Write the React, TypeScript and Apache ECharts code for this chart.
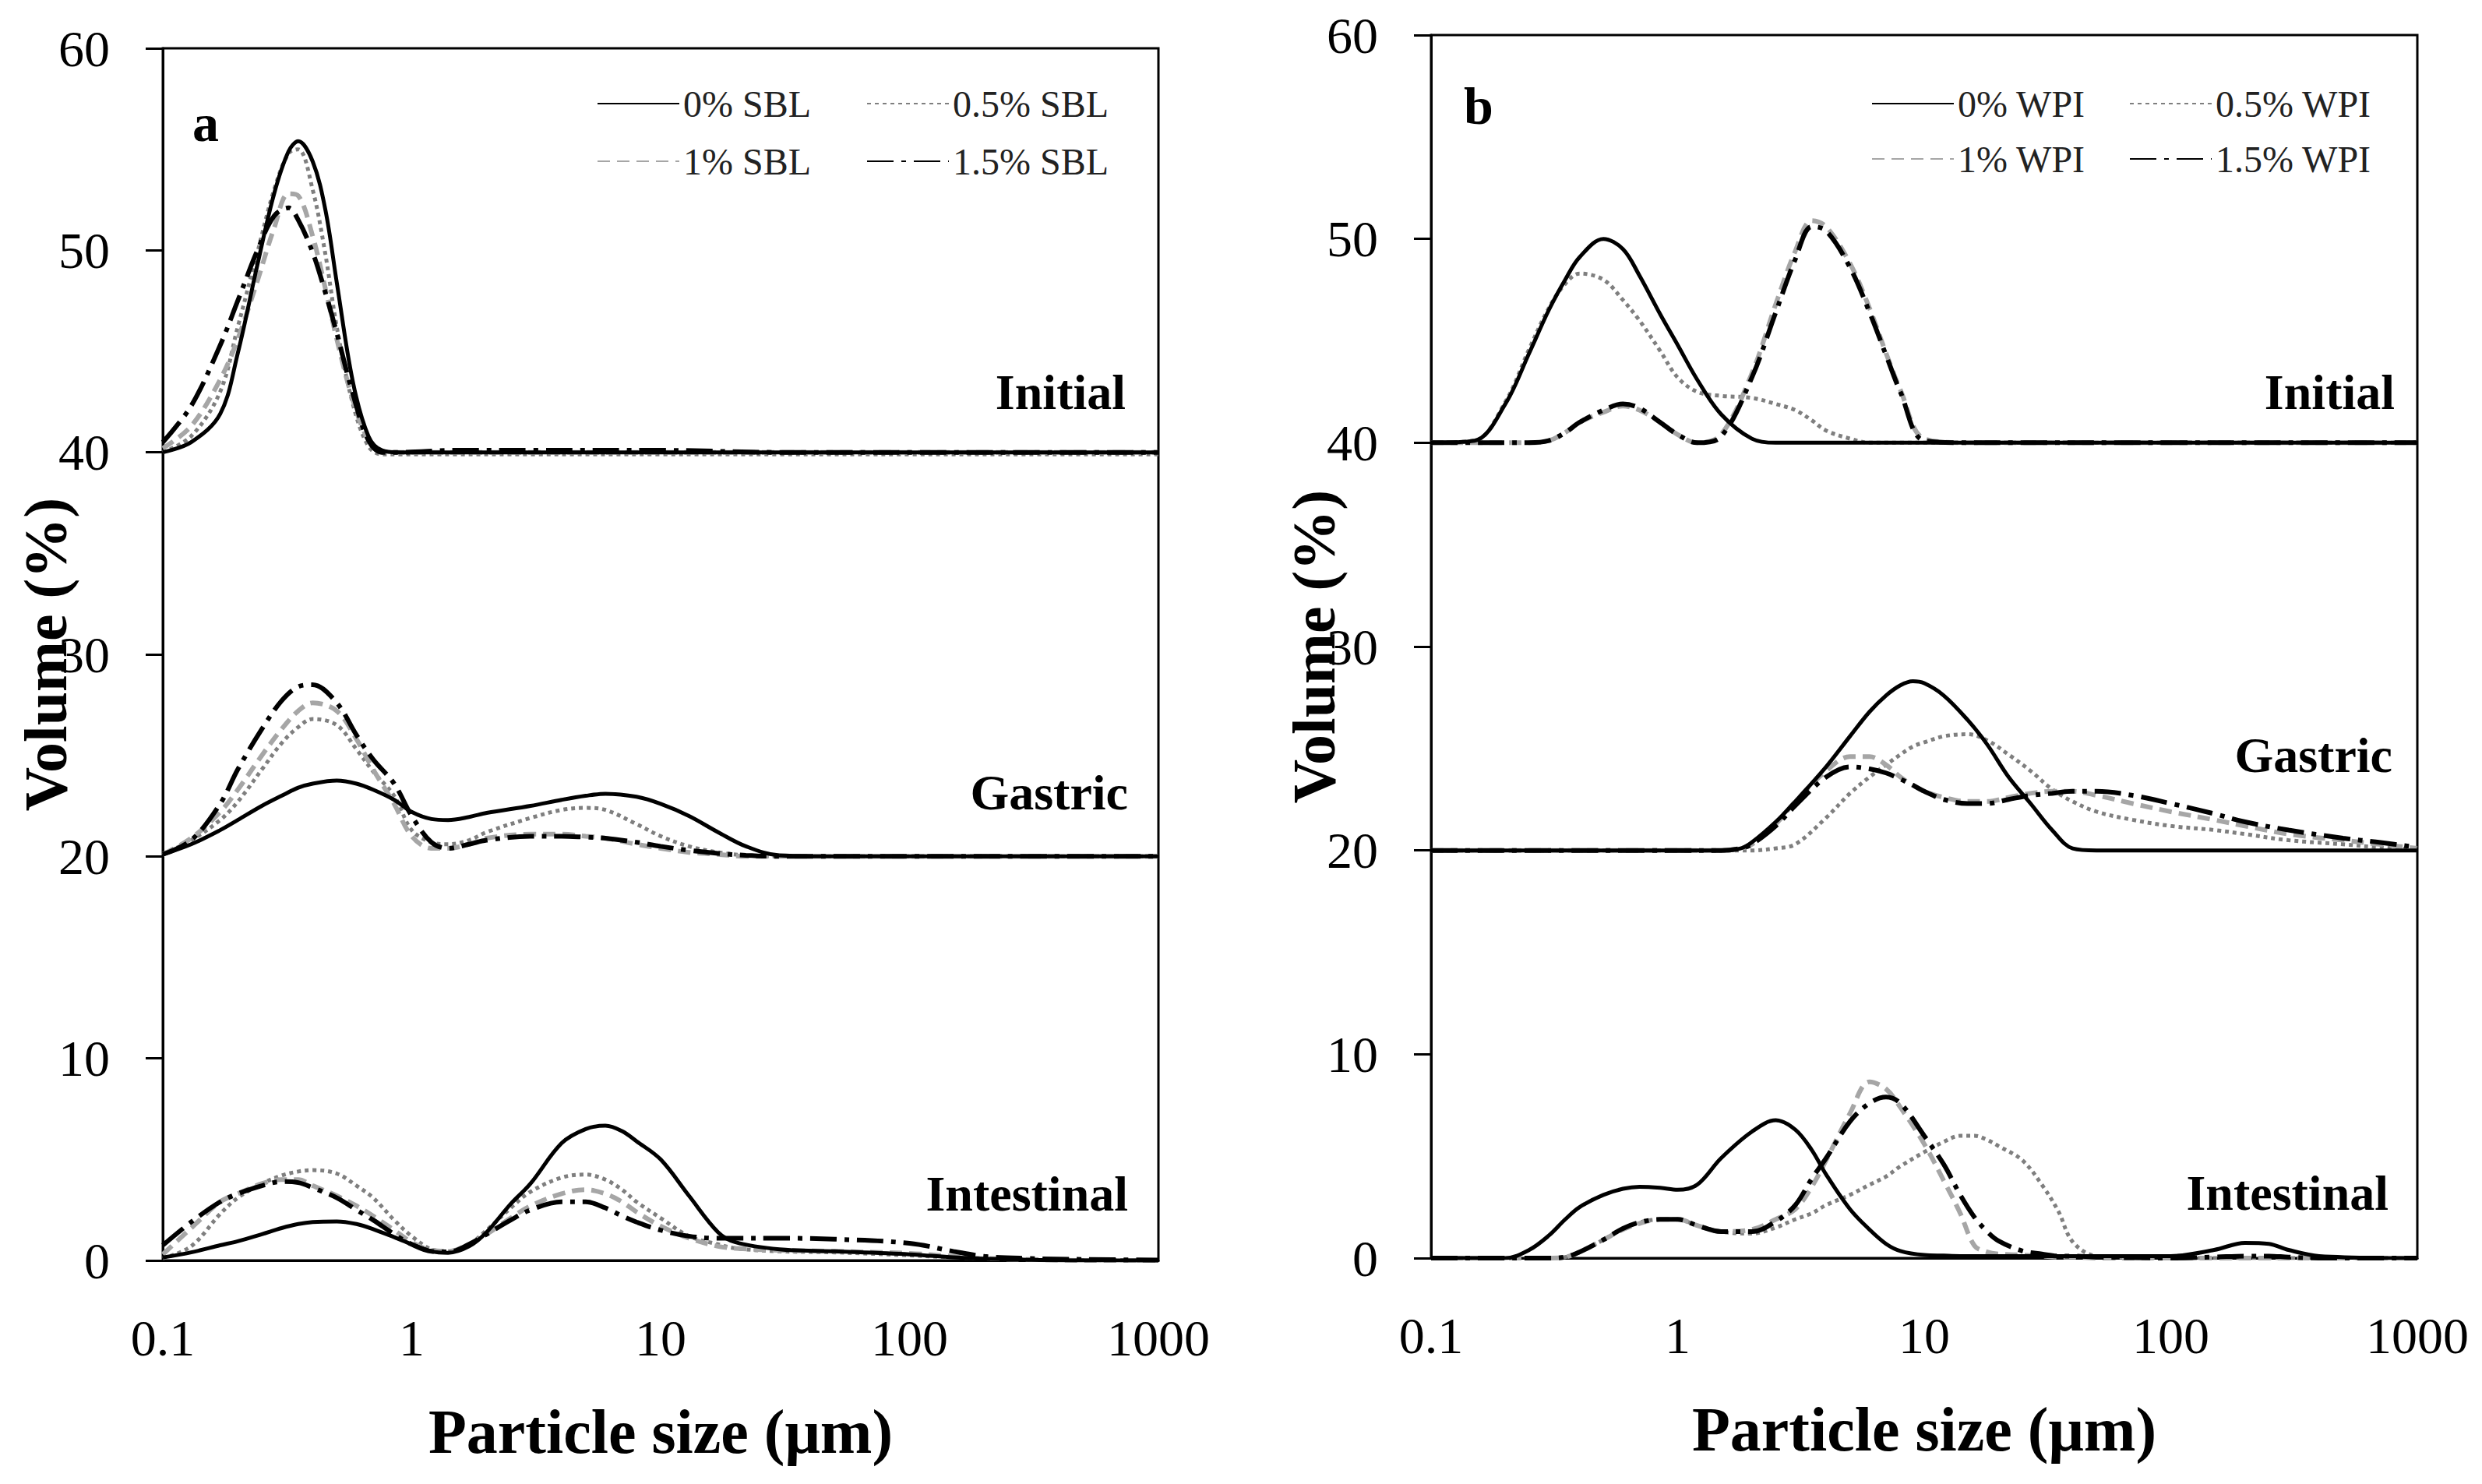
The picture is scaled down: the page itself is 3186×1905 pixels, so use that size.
import React, { useEffect, useRef } from "react";
import * as echarts from "echarts";

const FONT = "'Liberation Serif', 'Times New Roman', serif";

// ---------- labels ----------
const conditionsA = ["0% SBL", "0.5% SBL", "1% SBL", "1.5% SBL"];
const conditionsB = ["0% WPI", "0.5% WPI", "1% WPI", "1.5% WPI"];
const stageLabels = ["Initial", "Gastric", "Intestinal"];
const xTickLabels = ["0.1", "1", "10", "100", "1000"];
const yAxisTitle = "Volume (%)";
const xAxisTitle = "Particle size (μm)";

// ---------- panel a (SBL) ----------
const xA_initial = [0.1, 0.13, 0.17, 0.2, 0.24, 0.28, 0.32, 0.35, 0.4, 0.45, 0.5, 0.58, 0.67, 0.76, 0.9, 1.5, 3, 10, 30, 100, 300, 1000];
const a_initial_0 = [40.0, 40.5, 41.9, 44.9, 49.3, 52.8, 54.9, 55.4, 54.4, 52.0, 48.4, 43.5, 40.8, 40.1, 40.0, 40.0, 40.0, 40.0, 40.0, 40.0, 40.0, 40.0];
const a_initial_05 = [40.0, 40.8, 43.0, 46.2, 49.9, 53.0, 54.8, 55.0, 53.0, 49.8, 46.2, 42.4, 40.3, 39.9, 39.9, 39.9, 39.9, 39.9, 39.9, 39.9, 39.9, 39.9];
const a_initial_1 = [40.2, 41.3, 43.6, 45.6, 48.5, 51.1, 52.8, 52.7, 50.7, 48.1, 45.6, 42.6, 40.6, 40.0, 40.0, 40.0, 40.0, 40.0, 40.0, 40.0, 40.0, 40.0];
const a_initial_15 = [40.5, 42.3, 45.3, 47.5, 50.0, 51.7, 52.1, 51.5, 49.9, 47.9, 45.9, 42.9, 40.6, 40.0, 40.0, 40.1, 40.1, 40.1, 40.0, 40.0, 40.0, 40.0];

const xA_gastric = [0.1, 0.13, 0.17, 0.2, 0.25, 0.3, 0.35, 0.4, 0.5, 0.6, 0.7, 0.85, 1, 1.2, 1.4, 1.7, 2, 3, 4, 5, 6, 8, 10, 13, 17, 22, 30, 50, 100, 300, 1000];
const a_gastric_0 = [20.1, 20.6, 21.3, 21.8, 22.5, 23.0, 23.4, 23.6, 23.75, 23.6, 23.3, 22.8, 22.2, 21.85, 21.8, 21.95, 22.15, 22.5, 22.8, 23.0, 23.1, 22.95, 22.6, 22.0, 21.2, 20.5, 20.05, 20.0, 20.0, 20.0, 20.0];
const a_gastric_05 = [20.1, 20.8, 21.8, 22.7, 24.3, 25.6, 26.4, 26.8, 26.5, 25.3, 24.2, 23.0, 21.3, 20.7, 20.6, 20.8, 21.2, 21.9, 22.3, 22.4, 22.3, 21.6, 21.0, 20.5, 20.2, 20.05, 20.0, 20.0, 20.0, 20.0, 20.0];
const a_gastric_1 = [20.1, 20.9, 22.2, 23.3, 25.0, 26.3, 27.2, 27.6, 27.2, 25.8, 24.3, 22.6, 21.0, 20.4, 20.4, 20.6, 20.9, 21.1, 21.1, 21.0, 20.9, 20.6, 20.4, 20.2, 20.1, 20.0, 20.0, 20.0, 20.0, 20.0, 20.0];
const a_gastric_15 = [20.1, 20.8, 22.6, 24.3, 26.3, 27.7, 28.4, 28.5, 27.6, 26.0, 24.8, 23.6, 22.0, 20.7, 20.4, 20.6, 20.8, 21.0, 21.0, 20.95, 20.9, 20.7, 20.5, 20.3, 20.15, 20.05, 20.0, 20.0, 20.0, 20.0, 20.0];

const xA_intestinal = [0.1, 0.13, 0.17, 0.2, 0.25, 0.3, 0.35, 0.4, 0.5, 0.6, 0.7, 0.85, 1, 1.2, 1.4, 1.7, 2, 2.5, 3, 4, 5, 6, 7, 8, 10, 13, 17, 20, 30, 50, 100, 150, 200, 300, 500, 1000];
const a_intestinal_0 = [0.15, 0.4, 0.75, 0.95, 1.3, 1.6, 1.8, 1.9, 1.93, 1.8, 1.55, 1.15, 0.8, 0.45, 0.38, 0.7, 1.4, 2.8, 3.8, 5.8, 6.5, 6.67, 6.4, 5.9, 5.0, 3.2, 1.4, 0.9, 0.55, 0.45, 0.3, 0.15, 0.08, 0.03, 0.0, 0.0];
const a_intestinal_05 = [0.1, 0.7, 2.3, 3.1, 3.8, 4.2, 4.4, 4.47, 4.3, 3.7, 3.1, 2.0, 1.2, 0.55, 0.45, 0.8, 1.5, 2.6, 3.4, 4.1, 4.25, 4.0, 3.5, 2.9, 2.1, 1.2, 0.8, 0.6, 0.45, 0.4, 0.25, 0.15, 0.1, 0.05, 0.02, 0.0];
const a_intestinal_1 = [0.3, 1.6, 2.9, 3.3, 3.8, 4.0, 4.0, 3.7, 3.2, 2.7, 2.2, 1.5, 0.9, 0.5, 0.45, 0.8, 1.3, 2.1, 2.7, 3.3, 3.5, 3.3, 2.9, 2.4, 1.7, 1.1, 0.7, 0.6, 0.5, 0.45, 0.35, 0.2, 0.1, 0.05, 0.0, 0.0];
const a_intestinal_15 = [0.75, 1.9, 2.9, 3.3, 3.7, 3.9, 3.85, 3.6, 3.1, 2.5, 2.0, 1.3, 0.8, 0.45, 0.42, 0.8, 1.3, 2.0, 2.5, 2.9, 2.9, 2.6, 2.2, 1.9, 1.5, 1.2, 1.1, 1.1, 1.1, 1.05, 0.85, 0.45, 0.2, 0.1, 0.05, 0.02];

// ---------- panel b (WPI) ----------
const xB_initial = [0.1, 0.15, 0.2, 0.25, 0.3, 0.35, 0.4, 0.5, 0.6, 0.7, 0.85, 1, 1.2, 1.5, 2, 2.5, 3, 3.5, 4, 5, 6, 7, 8, 10, 15, 30, 100, 300, 1000];
const b_initial_0 = [40.0, 40.1, 41.9, 44.4, 46.5, 48.0, 49.1, 50.0, 49.5, 48.2, 46.3, 44.8, 43.1, 41.4, 40.2, 40.0, 40.0, 40.0, 40.0, 40.0, 40.0, 40.0, 40.0, 40.0, 40.0, 40.0, 40.0, 40.0, 40.0];
const b_initial_05 = [40.0, 40.1, 42.0, 44.6, 46.6, 47.8, 48.3, 48.0, 47.0, 46.0, 44.5, 43.2, 42.5, 42.3, 42.2, 41.9, 41.6, 41.1, 40.6, 40.2, 40.0, 40.0, 40.0, 40.0, 40.0, 40.0, 40.0, 40.0, 40.0];
const b_initial_1 = [40.0, 40.0, 40.0, 40.0, 40.1, 40.5, 41.0, 41.5, 41.8, 41.6, 41.0, 40.4, 40.0, 40.4, 43.4, 46.8, 49.4, 50.9, 50.6, 48.8, 46.6, 44.4, 42.6, 40.2, 40.0, 40.0, 40.0, 40.0, 40.0];
const b_initial_15 = [40.0, 40.0, 40.0, 40.0, 40.1, 40.5, 41.0, 41.6, 41.9, 41.7, 41.0, 40.4, 40.0, 40.3, 43.2, 46.4, 49.0, 50.6, 50.4, 48.6, 46.4, 44.3, 42.5, 40.1, 40.0, 40.0, 40.0, 40.0, 40.0];

const xB_gastric = [0.1, 0.5, 1, 1.5, 1.8, 2, 2.5, 3, 4, 5, 6, 7, 8, 9, 10, 12, 15, 18, 22, 27, 33, 40, 50, 70, 100, 150, 200, 300, 500, 700, 1000];
const b_gastric_0 = [20.0, 20.0, 20.0, 20.0, 20.1, 20.4, 21.4, 22.4, 24.1, 25.6, 26.8, 27.6, 28.1, 28.3, 28.2, 27.6, 26.4, 25.2, 23.6, 22.3, 21.0, 20.1, 20.0, 20.0, 20.0, 20.0, 20.0, 20.0, 20.0, 20.0, 20.0];
const b_gastric_05 = [20.0, 20.0, 20.0, 20.0, 20.0, 20.0, 20.1, 20.3, 21.6, 22.8, 23.6, 24.2, 24.7, 25.1, 25.3, 25.6, 25.7, 25.4, 24.7, 23.9, 23.0, 22.4, 21.9, 21.5, 21.2, 21.0, 20.8, 20.5, 20.3, 20.15, 20.05];
const b_gastric_1 = [20.0, 20.0, 20.0, 20.0, 20.1, 20.3, 21.3, 22.4, 23.9, 24.6, 24.6, 24.2, 23.6, 23.2, 22.9, 22.6, 22.4, 22.4, 22.6, 22.8, 22.9, 22.9, 22.7, 22.3, 21.9, 21.5, 21.2, 20.8, 20.5, 20.3, 20.1];
const b_gastric_15 = [20.0, 20.0, 20.0, 20.0, 20.1, 20.3, 21.2, 22.2, 23.6, 24.1, 24.0, 23.8, 23.5, 23.2, 22.9, 22.5, 22.3, 22.3, 22.5, 22.7, 22.8, 22.9, 22.9, 22.7, 22.3, 21.8, 21.4, 21.0, 20.6, 20.4, 20.15];

const xB_intestinal = [0.1, 0.2, 0.25, 0.3, 0.35, 0.4, 0.5, 0.6, 0.7, 0.85, 1, 1.2, 1.5, 2, 2.5, 3, 3.5, 4, 5, 6, 7, 8, 10, 12, 14, 16, 18, 20, 25, 30, 35, 40, 50, 100, 150, 200, 250, 300, 400, 1000];
const b_intestinal_0 = [0.0, 0.0, 0.4, 1.1, 1.9, 2.5, 3.1, 3.4, 3.5, 3.45, 3.35, 3.6, 4.9, 6.2, 6.76, 6.3, 5.3, 4.1, 2.4, 1.4, 0.7, 0.35, 0.15, 0.12, 0.1, 0.1, 0.1, 0.1, 0.1, 0.1, 0.1, 0.1, 0.1, 0.1, 0.4, 0.75, 0.7, 0.4, 0.1, 0.0];
const b_intestinal_05 = [0.0, 0.0, 0.0, 0.0, 0.05, 0.3, 0.9, 1.45, 1.75, 1.9, 1.9, 1.6, 1.3, 1.2, 1.5, 1.9, 2.2, 2.6, 3.1, 3.6, 4.0, 4.5, 5.2, 5.7, 6.0, 6.0, 5.8, 5.5, 4.8, 3.6, 2.3, 0.8, 0.1, 0.0, 0.0, 0.0, 0.0, 0.0, 0.0, 0.0];
const b_intestinal_1 = [0.0, 0.0, 0.0, 0.0, 0.05, 0.3, 0.9, 1.4, 1.7, 1.9, 1.9, 1.6, 1.3, 1.4, 1.9, 2.4, 3.5, 4.8, 7.1, 8.65, 8.3, 7.4, 5.6, 3.8, 2.2, 0.6, 0.3, 0.2, 0.15, 0.1, 0.05, 0.05, 0.0, 0.0, 0.0, 0.0, 0.0, 0.0, 0.0, 0.0];
const b_intestinal_15 = [0.0, 0.0, 0.0, 0.0, 0.05, 0.3, 0.9, 1.45, 1.75, 1.9, 1.9, 1.6, 1.3, 1.3, 1.8, 2.6, 3.9, 4.9, 6.7, 7.6, 7.9, 7.6, 6.0, 4.6, 3.1, 2.0, 1.3, 0.85, 0.35, 0.2, 0.1, 0.1, 0.05, 0.0, 0.05, 0.1, 0.1, 0.05, 0.0, 0.0];

// ---------- styles ----------
const lineStyles: any[] = [
  { color: "#000000", width: 5, type: "solid" },
  { color: "#7f7f7f", width: 5, type: [5, 5] },
  { color: "#a6a6a6", width: 6, type: [16, 9] },
  { color: "#000000", width: 6, type: [34, 10, 6, 10] },
];

const zip = (xs: number[], ys: number[]) => xs.map((x, i) => [x, ys[i]]);

const panelA = [
  { x: xA_initial, ys: [a_initial_0, a_initial_05, a_initial_1, a_initial_15] },
  { x: xA_gastric, ys: [a_gastric_0, a_gastric_05, a_gastric_1, a_gastric_15] },
  { x: xA_intestinal, ys: [a_intestinal_0, a_intestinal_05, a_intestinal_1, a_intestinal_15] },
];
const panelB = [
  { x: xB_initial, ys: [b_initial_0, b_initial_05, b_initial_1, b_initial_15] },
  { x: xB_gastric, ys: [b_gastric_0, b_gastric_05, b_gastric_1, b_gastric_15] },
  { x: xB_intestinal, ys: [b_intestinal_0, b_intestinal_05, b_intestinal_1, b_intestinal_15] },
];

function buildSeries(panel: any[], names: string[], axisIndex: number) {
  const out: any[] = [];
  const order = [1, 2, 3, 0];
  panel.forEach((stage) => {
    order.forEach((ci) => {
      out.push({
        type: "line",
        name: names[ci],
        xAxisIndex: axisIndex,
        yAxisIndex: axisIndex,
        data: zip(stage.x, stage.ys[ci]),
        smooth: 0.35,
        symbol: "none",
        showSymbol: false,
        lineStyle: lineStyles[ci],
        itemStyle: { color: lineStyles[ci].color },
        z: ci === 0 ? 5 : 3,
        silent: true,
      });
    });
  });
  return out;
}

const xAxisCommon = (gridIndex: number) => ({
  type: "log",
  logBase: 10,
  gridIndex,
  min: 0.1,
  max: 1000,
  axisLine: { show: true, lineStyle: { color: "#000", width: 3 } },
  axisTick: { show: false },
  splitLine: { show: false },
  minorTick: { show: false },
  axisLabel: {
    fontFamily: FONT,
    fontSize: 66,
    color: "#000",
    margin: 66,
    formatter: (v: number) => {
      const i = Math.round(Math.log10(v)) + 1;
      return xTickLabels[i] ?? "";
    },
  },
  name: xAxisTitle,
  nameLocation: "middle",
  nameGap: 180,
  nameMoveOverlap: false,
  nameTextStyle: { fontFamily: FONT, fontSize: 80, fontWeight: "bold", color: "#000" },
});

const yAxisCommon = (gridIndex: number) => ({
  type: "value",
  gridIndex,
  min: 0,
  max: 60,
  interval: 10,
  axisLine: { show: true, lineStyle: { color: "#000", width: 3 } },
  axisTick: { show: true, inside: false, length: 22, lineStyle: { color: "#000", width: 3 } },
  splitLine: { show: false },
  axisLabel: { fontFamily: FONT, fontSize: 66, color: "#000", margin: 68 },
  name: yAxisTitle,
  nameLocation: "middle",
  nameGap: 112,
  nameMoveOverlap: false,
  nameTextStyle: { fontFamily: FONT, fontSize: 78, fontWeight: "bold", color: "#000" },
});

function legendItem(name: string, left: number, top: number) {
  return {
    show: true,
    data: [name],
    left,
    top,
    orient: "horizontal",
    padding: 0,
    itemWidth: 105,
    itemHeight: 14,
    selectedMode: false,
    itemStyle: { color: "transparent", borderColor: "transparent", borderWidth: 0, opacity: 0 },
    textStyle: { fontFamily: FONT, fontSize: 48, color: "#222" },
  };
}

function stageText(text: string, right: number, y: number) {
  return {
    type: "text",
    x: right,
    y,
    silent: true,
    style: {
      text,
      fill: "#000",
      font: `bold 64px ${FONT}`,
      textAlign: "right",
      textVerticalAlign: "middle",
    },
  };
}

export default function App() {
  const ref = useRef<HTMLDivElement>(null);

  useEffect(() => {
    document.body.style.margin = "0";
    if (!ref.current) return;
    const chart = echarts.init(ref.current, undefined, { renderer: "svg" });

    const option: any = {
      animation: false,
      backgroundColor: "#ffffff",
      textStyle: { fontFamily: FONT },
      grid: [
        { left: 209, top: 62, width: 1278, height: 1556, show: true, borderColor: "#000", borderWidth: 3, backgroundColor: "transparent", containLabel: false, outerBoundsMode: "none" },
        { left: 1837, top: 45, width: 1266, height: 1570, show: true, borderColor: "#000", borderWidth: 3, backgroundColor: "transparent", containLabel: false, outerBoundsMode: "none" },
      ],
      xAxis: [xAxisCommon(0), xAxisCommon(1)],
      yAxis: [yAxisCommon(0), yAxisCommon(1)],
      legend: [
        legendItem(conditionsA[0], 766, 109),
        legendItem(conditionsA[1], 1112, 109),
        legendItem(conditionsA[2], 766, 183),
        legendItem(conditionsA[3], 1112, 183),
        legendItem(conditionsB[0], 2402, 109),
        legendItem(conditionsB[1], 2733, 109),
        legendItem(conditionsB[2], 2402, 180),
        legendItem(conditionsB[3], 2733, 180),
      ],
      series: [...buildSeries(panelA, conditionsA, 0), ...buildSeries(panelB, conditionsB, 1)],
      graphic: [
        { type: "text", x: 264, y: 158, silent: true, style: { text: "a", fill: "#000", font: `bold 68px ${FONT}`, textAlign: "center", textVerticalAlign: "middle" } },
        { type: "text", x: 1898, y: 136, silent: true, style: { text: "b", fill: "#000", font: `bold 68px ${FONT}`, textAlign: "center", textVerticalAlign: "middle" } },
        stageText(stageLabels[0], 1445, 503),
        stageText(stageLabels[1], 1448, 1017),
        stageText(stageLabels[2], 1448, 1532),
        stageText(stageLabels[0], 3074, 503),
        stageText(stageLabels[1], 3071, 969),
        stageText(stageLabels[2], 3066, 1531),
      ],
    };

    chart.setOption(option);
    return () => chart.dispose();
  }, []);

  return <div ref={ref} style={{ width: "3186px", height: "1905px" }} />;
}
